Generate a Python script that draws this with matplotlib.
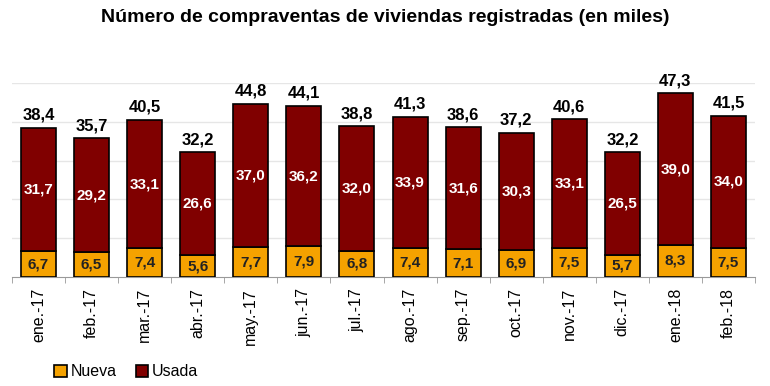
import matplotlib.pyplot as plt
import numpy as np

plt.rcParams["font.family"] = ["Liberation Sans", "DejaVu Sans"]

months = ["ene.-17", "feb.-17", "mar.-17", "abr.-17", "may.-17", "jun.-17", "jul.-17",
          "ago.-17", "sep.-17", "oct.-17", "nov.-17", "dic.-17", "ene.-18", "feb.-18"]
nueva = [6.7, 6.5, 7.4, 5.6, 7.7, 7.9, 6.8, 7.4, 7.1, 6.9, 7.5, 5.7, 8.3, 7.5]
usada = [31.7, 29.2, 33.1, 26.6, 37.0, 36.2, 32.0, 33.9, 31.6, 30.3, 33.1, 26.5, 39.0, 34.0]
total = [38.4, 35.7, 40.5, 32.2, 44.8, 44.1, 38.8, 41.3, 38.6, 37.2, 40.6, 32.2, 47.3, 41.5]

def fmt(v):
    return f"{v:.1f}".replace(".", ",")

fig = plt.figure(figsize=(7.7, 3.86), dpi=100)
ax = fig.add_axes([12 / 770, 1 - 277 / 386, 743 / 770, 194 / 386])

x = np.arange(len(months))
w = 0.66
ax.bar(x, nueva, w, color="#F5A200", edgecolor="black", linewidth=1.2, label="Nueva", zorder=3)
ax.bar(x, usada, w, bottom=nueva, color="#800000", edgecolor="black", linewidth=1.2, label="Usada", zorder=3)

for i in range(len(months)):
    ax.text(x[i], nueva[i] / 2, fmt(nueva[i]), ha="center", va="center",
            fontsize=11, fontweight="bold", color="#222222", zorder=4)
    ax.text(x[i], nueva[i] + usada[i] / 2, fmt(usada[i]), ha="center", va="center",
            fontsize=11, fontweight="bold", color="white", zorder=4)
    ax.text(x[i], total[i] + 1.3, fmt(total[i]), ha="center", va="bottom",
            fontsize=12, fontweight="bold", color="black", zorder=4)

ax.set_xlim(-0.5, len(months) - 0.5)
ax.set_ylim(0, 50)
ax.set_yticks([10, 20, 30, 40, 50])
ax.yaxis.grid(True, color="#e6e6e6", linewidth=1, zorder=0)
ax.tick_params(axis="y", left=False, labelleft=False)
for s in ["top", "right", "left"]:
    ax.spines[s].set_visible(False)
ax.spines["bottom"].set_color("#999999")

ax.set_xticks(x)
ax.set_xticklabels(months, rotation=90, fontsize=11.5)
ax.tick_params(axis="x", length=0, pad=8)
ax.set_xticks(np.arange(-0.5, len(months)), minor=True)
ax.tick_params(axis="x", which="minor", length=4, color="#999999")

fig.text(0.5, 1 - 18 / 386, "Número de compraventas de viviendas registradas (en miles)",
         ha="center", va="center", fontsize=14, fontweight="bold")

fig.legend(loc="lower left", bbox_to_anchor=(40 / 770, -0.02), ncol=2, frameon=False,
           fontsize=11.5, handlelength=0.8, handleheight=0.8, handletextpad=0.2, columnspacing=1.2)

fig.savefig("out.png", dpi=100)
